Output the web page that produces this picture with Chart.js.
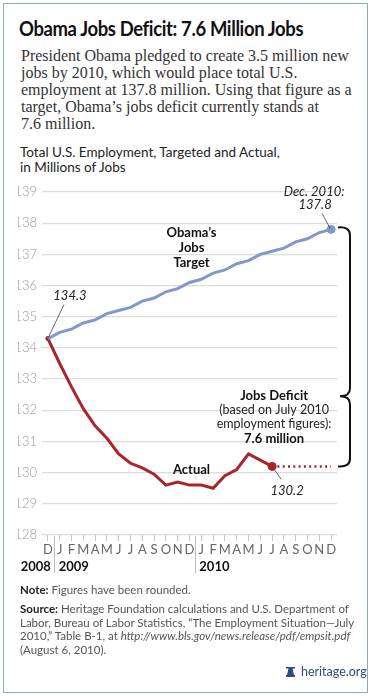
<!DOCTYPE html>
<html><head><meta charset="utf-8">
<script src="https://cdn.jsdelivr.net/npm/chart.js@4"></script>
<style>
html,body{margin:0;padding:0;background:#fff;}
#wrap{position:relative;width:373px;height:696px;overflow:hidden;background:#fff;}
#frame{position:absolute;left:3px;top:3px;width:363px;height:688px;border:1.5px solid #93aabb;}
.t{position:absolute;white-space:nowrap;}
#title{left:19px;top:15px;font-family:Lato,sans-serif;font-weight:700;font-size:20.5px;line-height:26px;color:#111;letter-spacing:-0.4px;transform:scaleX(0.9);transform-origin:0 0;}
#sub{left:21px;top:47px;font-family:"Liberation Serif",serif;font-size:16px;line-height:17px;color:#333;}
#ctitle{left:20px;top:145px;font-family:Lato,sans-serif;font-size:13.5px;line-height:15px;color:#222;}
#note{left:20px;top:583px;font-family:Lato,sans-serif;font-size:11.5px;line-height:13.7px;color:#555;}
#src{left:20px;top:602px;font-family:Lato,sans-serif;font-size:11.5px;line-height:13.7px;color:#555;}
#note b,#src b{color:#222;}
#org{left:301px;top:664px;font-family:Lato,sans-serif;font-size:12.5px;color:#2b4c7e;}
#bell{position:absolute;left:286px;top:667px;width:9px;height:10px;}
canvas{position:absolute;left:0;top:176px;}
</style></head>
<body>
<div id="wrap">
<div id="frame"></div>
<div class="t" id="title">Obama Jobs Deficit: 7.6 Million Jobs</div>
<div class="t" id="sub">President Obama pledged to create 3.5 million new<br>jobs by 2010, which would place total U.S.<br>employment at 137.8 million. Using that figure as a<br>target, Obama’s jobs deficit currently stands at<br>7.6 million.</div>
<div class="t" id="ctitle">Total U.S. Employment, Targeted and Actual,<br>in Millions of Jobs</div>
<canvas id="c" width="373" height="420" style="width:373px;height:420px"></canvas>
<div class="t" id="note"><b>Note:</b> Figures have been rounded.</div>
<div class="t" id="src"><b>Source:</b> Heritage Foundation calculations and U.S. Department of<br>Labor, Bureau of Labor Statistics, “The Employment Situation—July<br>2010,” Table B-1, at <i>http://www.bls.gov/news.release/pdf/empsit.pdf</i><br>(August 6, 2010).</div>
<svg id="bell" viewBox="0 0 9 10"><path d="M0 0h9v1.5h-2.5l1.5 6.5h1v2h-9v-2h1l1.5-6.5h-2.5z" fill="#2b4c7e"/></svg>
<div class="t" id="org">heritage.org</div>
</div>
<script>
const months = ['D','J','F','M','A','M','J','J','A','S','O','N','D','J','F','M','A','M','J','J','A','S','O','N','D'];
const years = ['2008','2009','2010'];
const targetJobs = [134.3,134.5,134.6,134.8,134.9,135.1,135.2,135.3,135.5,135.6,135.8,135.9,136.1,136.2,136.4,136.5,136.7,136.8,137.0,137.1,137.2,137.4,137.5,137.7,137.8];
const actualJobs = [134.3,133.5,132.75,132.05,131.5,131.1,130.6,130.3,130.15,129.95,129.6,129.7,129.6,129.6,129.5,129.9,130.1,130.6,130.4,130.2];
const projectedJobs = [null,null,null,null,null,null,null,null,null,null,null,null,null,null,null,null,null,null,null,130.2,130.2,130.2,130.2,130.2,130.2];
const yTicks = [128,129,130,131,132,133,134,135,136,137,138,139];

const BLUE = '#7f99c9', RED = '#a8252b';
const lastT = targetJobs.length - 1, lastA = actualJobs.length - 1;

const deco = {
  id: 'deco',
  afterDraw(chart) {
    const ctx = chart.ctx, xs = chart.scales.x, ys = chart.scales.y, ca = chart.chartArea;
    const X = i => xs.getPixelForValue(i), Y = v => ys.getPixelForValue(v);
    ctx.save();
    // year separators and labels
    ctx.strokeStyle = '#bbb'; ctx.lineWidth = 1;
    [0.5, 12.5].forEach(p => {
      const x = Math.round((X(Math.floor(p)) + X(Math.ceil(p))) / 2) + 0.5;
      ctx.beginPath(); ctx.moveTo(x, ca.bottom + 1); ctx.lineTo(x, ca.bottom + 38); ctx.stroke();
    });
    ctx.fillStyle = '#111'; ctx.font = 'bold 13px Lato'; ctx.textBaseline = 'middle';
    ctx.textAlign = 'right'; ctx.fillText(years[0], X(0) + 3, ca.bottom + 32);
    ctx.textAlign = 'left'; ctx.fillText(years[1], X(1) - 1, ca.bottom + 32);
    ctx.fillText(years[2], X(13) - 2, ca.bottom + 32);
    // leader lines
    ctx.strokeStyle = '#444'; ctx.lineWidth = 0.8;
    ctx.beginPath(); ctx.moveTo(X(0), Y(targetJobs[0])); ctx.lineTo(X(0) + 16, Y(targetJobs[0]) - 34); ctx.stroke();
    ctx.beginPath(); ctx.moveTo(X(lastT) - 1, Y(targetJobs[lastT]) - 1); ctx.lineTo(X(lastT) - 9, Y(targetJobs[lastT]) - 16); ctx.stroke();
    ctx.beginPath(); ctx.moveTo(X(lastA) + 1, Y(actualJobs[lastA]) + 1); ctx.lineTo(X(lastA) + 9, Y(actualJobs[lastA]) + 13); ctx.stroke();
    // value labels
    ctx.fillStyle = '#222'; ctx.font = 'italic 13px Lato'; ctx.textAlign = 'center';
    ctx.fillText(targetJobs[0].toFixed(1), X(0) + 22, Y(targetJobs[0]) - 43);
    ctx.fillText('Dec. 2010:', X(lastT) - 17, Y(targetJobs[lastT]) - 38);
    ctx.fillText(targetJobs[lastT].toFixed(1), X(lastT) - 16, Y(targetJobs[lastT]) - 25);
    ctx.fillText(actualJobs[lastA].toFixed(1), X(lastA) + 15, Y(actualJobs[lastA]) + 24);
    // series labels
    ctx.font = 'bold 13px Lato'; ctx.fillStyle = '#111';
    ctx.fillText('Obama’s', X(12) + 2, Y(137.68));
    ctx.fillText('Jobs', X(12) + 2, Y(137.2));
    ctx.fillText('Target', X(12) + 2, Y(136.72));
    ctx.fillText('Actual', X(12) + 2, Y(130.08));
    ctx.fillText('Jobs Deficit', X(19) + 2, Y(132.45));
    ctx.font = '12.5px Lato'; ctx.fillStyle = '#222';
    ctx.fillText('(based on July 2010', X(19) + 2, Y(132.0));
    ctx.fillText('employment figures):', X(19) + 2, Y(131.55));
    ctx.font = 'bold 13px Lato'; ctx.fillStyle = '#111';
    ctx.fillText('7.6 million', X(19) + 2, Y(131.1));
    // brace
    const yT = Y(targetJobs[lastT]) - 2, yB = Y(actualJobs[lastA]), yM = Y(132.45);
    const x0 = ca.right + 1, xb = ca.right + 13;
    ctx.strokeStyle = '#111'; ctx.lineWidth = 2;
    ctx.beginPath();
    ctx.moveTo(x0, yT);
    ctx.quadraticCurveTo(xb, yT - 1, xb, yT + 8);
    ctx.lineTo(xb, yM - 8);
    ctx.quadraticCurveTo(xb, yM, x0 + 2, yM);
    ctx.quadraticCurveTo(xb, yM, xb, yM + 8);
    ctx.lineTo(xb, yB - 8);
    ctx.quadraticCurveTo(xb, yB + 1, x0, yB);
    ctx.stroke();
    ctx.restore();
  }
};

new Chart(document.getElementById('c'), {
  type: 'line',
  data: {
    labels: months,
    datasets: [
      { data: projectedJobs, borderColor: RED, borderWidth: 2.5, borderDash: [2, 3.3], pointRadius: 0, tension: 0 },
      { data: targetJobs, borderColor: BLUE, backgroundColor: BLUE, borderWidth: 3, tension: 0,
        pointRadius: targetJobs.map((v, i) => i === lastT ? 4.5 : 0), pointBorderWidth: 0 },
      { data: actualJobs, borderColor: RED, backgroundColor: RED, borderWidth: 3, tension: 0,
        pointRadius: actualJobs.map((v, i) => i === lastA ? 4.5 : (i === 0 ? 2.5 : 0)), pointBorderWidth: 0 }
    ]
  },
  options: {
    responsive: false, animation: false,
    layout: { padding: { left: 18, right: 36, top: 16, bottom: 31 } },
    plugins: { legend: { display: false }, tooltip: { enabled: false } },
    scales: {
      x: {
        offset: true,
        grid: { offset: false, drawOnChartArea: false, drawTicks: true, tickLength: 6, color: '#c8c8c8' },
        border: { display: false },
        ticks: { autoSkip: false, maxRotation: 0, padding: 1, color: '#666', font: { family: 'Lato', size: 13 } },
        afterFit: s => { s.height = 30; }
      },
      y: {
        min: 128, max: 139,
        afterBuildTicks: s => { s.ticks = yTicks.map(v => ({ value: v })); },
        grid: { color: '#dcdcdc', lineWidth: 1.2, drawTicks: false },
        border: { display: false },
        ticks: { padding: 5, color: '#999', font: { family: 'Lato', size: 13, weight: 300 } },
        afterFit: s => { s.width = 24; }
      }
    }
  },
  plugins: [deco]
});
</script>
</body></html>
